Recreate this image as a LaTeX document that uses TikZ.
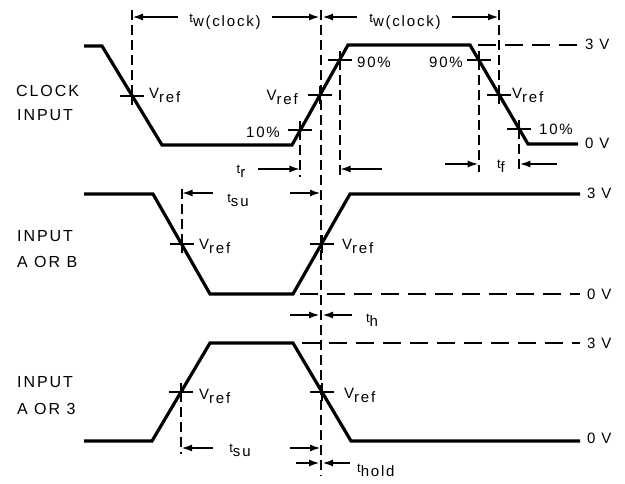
\documentclass[tikz,border=0pt]{standalone}
\usepackage{fontspec}
\setmainfont[LetterSpace=12]{Liberation Sans}
\usetikzlibrary{calc,arrows.meta}
\newcommand{\Vr}{V\raisebox{-4pt}{ref}}
\newcommand{\tlab}[1]{\raisebox{4pt}{\fontsize{13}{13}\selectfont t}#1}
\tikzset{
  wave/.style={line width=3.2pt},
  vdsh/.style={line width=2pt, dash pattern=on 10pt off 5pt},
  hdsh/.style={line width=2pt, dash pattern=on 18pt off 9pt},
  dim/.style={line width=2.1pt, -{Latex[length=11pt,width=7pt]}},
  tick/.style={line width=2pt},
  lbl/.style={inner sep=0pt, font=\fontsize{15}{18}\selectfont},
  big/.style={inner sep=0pt, font=\fontsize{16}{18}\selectfont},
}
\newcommand{\crossat}[1]{\draw[tick] ($(#1)+(-12,0)$) -- ($(#1)+(12,0)$) ($(#1)+(0,-9)$) -- ($(#1)+(0,9)$);}
\begin{document}
\begin{tikzpicture}[x=1pt,y=-1pt]
\useasboundingbox (0,0) rectangle (625,483);
% ---------------- clock waveform
\coordinate (c0) at (84,46);
\coordinate (c1) at (102,46);
\coordinate (c2) at (162,145);
\coordinate (c3) at (292,145);
\coordinate (c4) at (348,45);
\coordinate (c5) at (470,45);
\coordinate (c6) at (528,144);
\coordinate (c7) at (578,144);
\coordinate (cA) at ($(c1)!0.5!(c2)$);
\coordinate (cB10) at ($(c3)!0.15!(c4)$);
\coordinate (cBr) at ($(c3)!0.5!(c4)$);
\coordinate (cB90) at ($(c3)!0.85!(c4)$);
\coordinate (cC90) at ($(c5)!0.15!(c6)$);
\coordinate (cCr) at ($(c5)!0.5!(c6)$);
\coordinate (cC10) at ($(c5)!0.85!(c6)$);
% ---------------- input A or B
\coordinate (a0) at (84,194);
\coordinate (a1) at (153,194);
\coordinate (a2) at (210,294);
\coordinate (a3) at (293,294);
\coordinate (a4) at (350,194);
\coordinate (a5) at (580,194);
\coordinate (aF) at ($(a1)!0.5!(a2)$);
\coordinate (aR) at ($(a3)!0.5!(a4)$);
% ---------------- input A or 3
\coordinate (b0) at (84,441);
\coordinate (b1) at (152,441);
\coordinate (b2) at (210,343);
\coordinate (b3) at (293,343);
\coordinate (b4) at (351,441);
\coordinate (b5) at (580,441);
\coordinate (bR) at ($(b1)!0.5!(b2)$);
\coordinate (bF) at ($(b3)!0.5!(b4)$);
% reference levels / rows
\coordinate (top) at (0,10);
\coordinate (tw) at (0,17);
\coordinate (trr) at (0,169);
\coordinate (tff) at (0,164);
\coordinate (tsu1) at (0,193);
\coordinate (th) at (0,315);
\coordinate (tsu2) at (0,448);
\coordinate (thold) at (0,463);
\coordinate (ctop) at (321,10);
\coordinate (cbot) at (321,476);

% waveforms
\draw[wave] (c0) -- (c1) -- (c2) -- (c3) -- (c4) -- (c5) -- (c6) -- (c7);
\draw[wave] (a0) -- (a1) -- (a2) -- (a3) -- (a4) -- (a5);
\draw[wave] (b0) -- (b1) -- (b2) -- (b3) -- (b4) -- (b5);

% horizontal dashed levels
\coordinate (h1a) at (478,45);  \coordinate (h1b) at (580,45);
\coordinate (h2a) at (300,294); \coordinate (h2b) at (580,294);
\coordinate (h3a) at (302,343); \coordinate (h3b) at (580,343);
\draw[hdsh] (h1a) -- (h1b);
\draw[hdsh] (h2a) -- (h2b);
\draw[hdsh] (h3a) -- (h3b);

% vertical dashed lines
\draw[vdsh] (ctop) -- (cbot);
\draw[vdsh] (cA |- top) -- (cA);
\draw[vdsh] (cCr |- top) -- (cCr);
\draw[vdsh] (cB10) -- ($(cB10 |- trr)+(0,8)$);
\draw[vdsh] (cB90) -- ($(cB90 |- trr)+(0,8)$);
\draw[vdsh] (cC90) -- ($(cC90 |- tff)+(0,8)$);
\draw[vdsh] (cC10) -- ($(cC10 |- tff)+(0,8)$);
\draw[vdsh] ($(aF |- tsu1)+(0,-4)$) -- (aF);
\draw[vdsh] (bR) -- ($(bR |- tsu2)+(0,6)$);

% crosses
\crossat{cA}
\crossat{cB10}
\crossat{cBr}
\crossat{cB90}
\crossat{cC90}
\crossat{cCr}
\crossat{cC10}
\crossat{aF}
\crossat{aR}
\crossat{bR}
\crossat{bF}

% dimension arrows
\draw[dim] (178,17) -- (cA |- tw);
\draw[dim] (272,17) -- ($(ctop |- tw)+(-1,0)$);
\draw[dim] (357,17) -- ($(ctop |- tw)+(1,0)$);
\draw[dim] (452,17) -- (cCr |- tw);
\draw[dim] (258,169) -- (cB10 |- trr);
\draw[dim] (382,169) -- (cB90 |- trr);
\draw[dim] (445,164) -- (cC90 |- tff);
\draw[dim] (557,164) -- (cC10 |- tff);
\draw[dim] (213,193) -- (aF |- tsu1);
\draw[dim] (290,193) -- (ctop |- tsu1);
\draw[dim] (290,315) -- ($(ctop |- th)+(-1,0)$);
\draw[dim] (352,315) -- ($(ctop |- th)+(1,0)$);
\draw[dim] (213,448) -- (bR |- tsu2);
\draw[dim] (290,448) -- (ctop |- tsu2);
\draw[dim] (296,463) -- ($(ctop |- thold)+(-1,0)$);
\draw[dim] (350,463) -- ($(ctop |- thold)+(1,0)$);

% labels: signal names
\node[big, anchor=base west] (l1) at (16,96) {CLOCK};
\node[big, anchor=base west] (l2) at (17,120) {INPUT};
\node[big, anchor=base west] (l3) at (17,241) {INPUT};
\node[big, anchor=base west] (l4) at (17,267) {A OR B};
\node[big, anchor=base west] (l5) at (17,387) {INPUT};
\node[big, anchor=base west] (l6) at (17,414) {A OR 3};

% level labels
\node[lbl, anchor=base west] (v1) at (585,49) {3 V};
\node[lbl, anchor=base west] (v2) at (585,148) {0 V};
\node[lbl, anchor=base west] (v3) at (587,198) {3 V};
\node[lbl, anchor=base west] (v4) at (587,299) {0 V};
\node[lbl, anchor=base west] (v5) at (587,348) {3 V};
\node[lbl, anchor=base west] (v6) at (587,443) {0 V};

% V_ref and percentage labels
\node[lbl, anchor=base west] (r1) at (149,98) {\Vr};
\node[lbl, anchor=base east] (r2) at (298,100) {\Vr};
\node[lbl, anchor=base east] (p1) at (280,137) {10\%};
\node[lbl, anchor=base west] (p2) at (357,67) {90\%};
\node[lbl, anchor=base east] (p3) at (463,67) {90\%};
\node[lbl, anchor=base west] (r3) at (512,98) {\Vr};
\node[lbl, anchor=base west] (p4) at (539,134) {10\%};
\node[lbl, anchor=base west] (r4) at (199,249) {\Vr};
\node[lbl, anchor=base west] (r5) at (342,249) {\Vr};
\node[lbl, anchor=base west] (r6) at (199,399) {\Vr};
\node[lbl, anchor=base west] (r7) at (344,398) {\Vr};

% timing labels
\node[lbl, anchor=base] (t1) at (225,26) {\tlab{w(clock)}};
\node[lbl, anchor=base] (t2) at (405,26) {\tlab{w(clock)}};
\node[lbl, anchor=base] (t3) at (241,177) {\tlab{r}};
\node[lbl, anchor=base] (t4) at (501,172) {\tlab{f}};
\node[lbl, anchor=base] (t5) at (238,206) {\tlab{su}};
\node[lbl, anchor=base] (t6) at (372,326) {\tlab{h}};
\node[lbl, anchor=base] (t7) at (240,456) {\tlab{su}};
\node[lbl, anchor=base west] (t8) at (357,476) {\tlab{hold}};
\end{tikzpicture}
\end{document}
